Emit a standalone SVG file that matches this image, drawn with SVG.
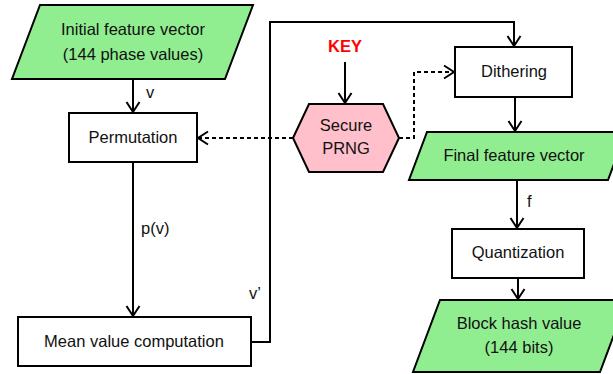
<svg xmlns="http://www.w3.org/2000/svg" width="613" height="374" viewBox="0 0 613 374">
<defs>
<style>
.box{fill:#fff;stroke:#000;stroke-width:2}
.io{fill:#90ee90;stroke:#000;stroke-width:2}
.rng{fill:#ffc0cb;stroke:#000;stroke-width:2}
.t{font-family:"Liberation Sans",Arial,sans-serif;font-size:16.5px;fill:#111;text-anchor:middle;dominant-baseline:central}
.lbl{font-family:"Liberation Sans",Arial,sans-serif;font-size:16.5px;fill:#111}
.key{font-family:"Liberation Sans",Arial,sans-serif;font-size:16.5px;font-weight:bold;fill:#ff0000;text-anchor:middle;dominant-baseline:central}
.c{fill:none;stroke:#000;stroke-width:2}
.d{fill:none;stroke:#000;stroke-width:2;stroke-dasharray:4 3}
</style>
<marker id="ah" markerUnits="userSpaceOnUse" markerWidth="14" markerHeight="16" refX="11" refY="8" orient="auto">
<path d="M1,1.5 L11,8 L1,14.5" fill="none" stroke="#000" stroke-width="2"/>
</marker>
</defs>
<rect width="613" height="374" fill="#fff"/>
<g id="connectors">
<path class="c" d="M133,79 V112" marker-end="url(#ah)"/>
<path class="c" d="M133,162 V316" marker-end="url(#ah)"/>
<path class="c" d="M251,342 H270 V22 H514 V46" marker-end="url(#ah)"/>
<path class="c" d="M345,62 V103" marker-end="url(#ah)"/>
<path class="d" d="M293,138 H198" marker-end="url(#ah)"/>
<path class="d" d="M399,138 H414 V72 H454" marker-end="url(#ah)"/>
<path class="c" d="M515,97 V131" marker-end="url(#ah)"/>
<path class="c" d="M517,180 V228" marker-end="url(#ah)"/>
<path class="c" d="M518,278 V299" marker-end="url(#ah)"/>
<text class="lbl" x="146" y="98">v</text>
<text class="lbl" x="141" y="234">p(v)</text>
<text class="lbl" x="249" y="299">v’</text>
<text class="lbl" x="527" y="207">f</text>
</g>
<g id="initial">
<polygon class="io" points="40,5 253,5 225,79 12,79"/>
<text class="t" x="133" y="29">Initial feature vector</text>
<text class="t" x="133" y="54">(144 phase values)</text>
</g>
<g id="permutation">
<rect class="box" x="69" y="113" width="128" height="49"/>
<text class="t" x="133" y="137">Permutation</text>
</g>
<g id="mean">
<rect class="box" x="18" y="317" width="233" height="49"/>
<text class="t" x="134" y="341">Mean value computation</text>
</g>
<g id="key">
<text class="key" x="345" y="46">KEY</text>
</g>
<g id="prng">
<polygon class="rng" points="293,138 309,104 383,104 399,138 383,172 309,172"/>
<text class="t" x="346" y="125">Secure</text>
<text class="t" x="346" y="148">PRNG</text>
</g>
<g id="dithering">
<rect class="box" x="455" y="47" width="117" height="50"/>
<text class="t" x="514" y="71">Dithering</text>
</g>
<g id="final">
<polygon class="io" points="427,132 626,132 608,180 409,180"/>
<text class="t" x="514" y="155">Final feature vector</text>
</g>
<g id="quantization">
<rect class="box" x="452" y="229" width="132" height="49"/>
<text class="t" x="518" y="252">Quantization</text>
</g>
<g id="hash">
<polygon class="io" points="440,300 627,300 600,372 413,372"/>
<text class="t" x="519" y="323">Block hash value</text>
<text class="t" x="519" y="347">(144 bits)</text>
</g>
</svg>
